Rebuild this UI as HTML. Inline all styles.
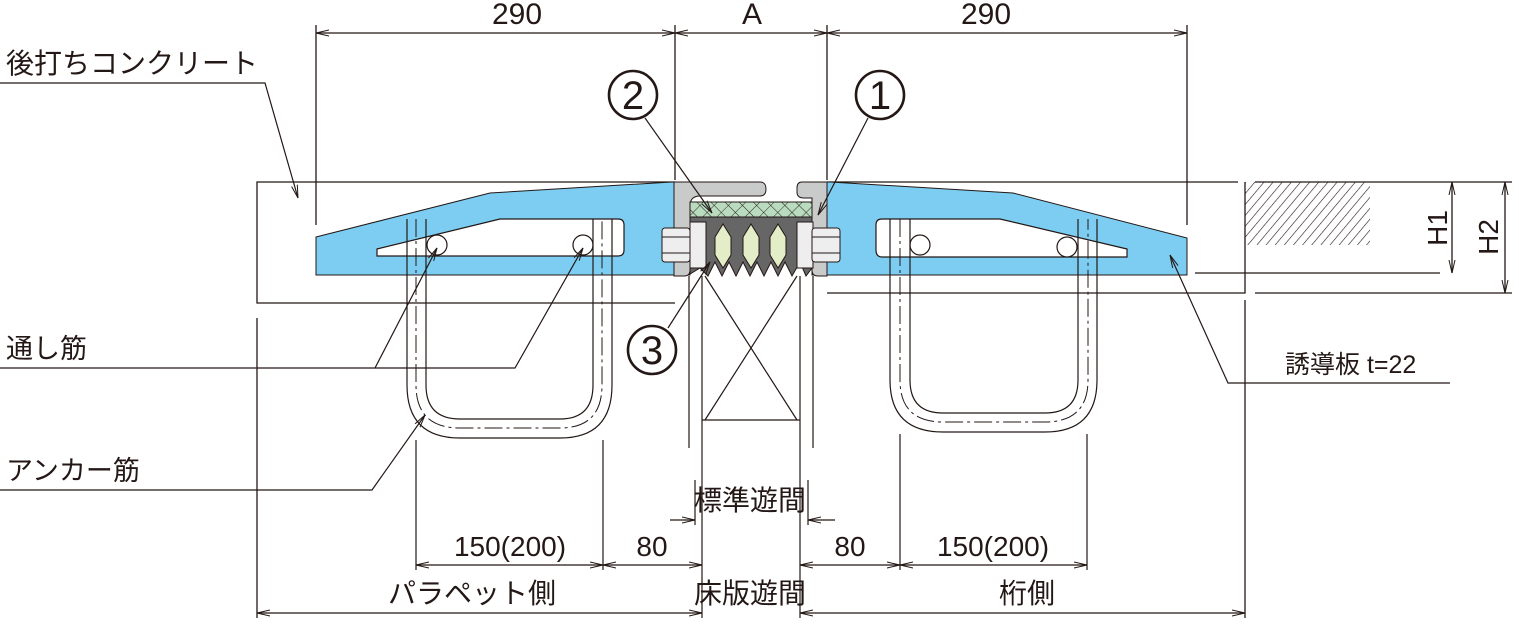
<!DOCTYPE html>
<html><head><meta charset="utf-8"><style>body{margin:0;background:#fff}svg{display:block}text{font-family:"Liberation Sans","Noto Sans CJK JP",sans-serif;fill:#231815}</style></head><body>
<svg width="1519" height="626" viewBox="0 0 1519 626" xmlns="http://www.w3.org/2000/svg">
<defs>
<marker id="a" markerWidth="14" markerHeight="8" refX="13" refY="4" orient="auto-start-reverse" markerUnits="userSpaceOnUse"><path d="M0,1 L13,4 L0,7" fill="none" stroke="#231815" stroke-width="1"/></marker>
<pattern id="h" width="7" height="7" patternUnits="userSpaceOnUse" patternTransform="rotate(40)"><line x1="0" y1="0" x2="0" y2="7" stroke="#231815" stroke-width="1.2"/></pattern>
<pattern id="x" width="10" height="10" patternUnits="userSpaceOnUse" patternTransform="rotate(45)"><rect width="10" height="10" fill="#b9dcbf"/><path d="M0,0V10M0,0H10" stroke="#231815" stroke-width="0.9"/></pattern>
</defs>
<g stroke="#231815" stroke-width="1.3" fill="none">
<line x1="316" y1="25" x2="316" y2="225"/><line x1="1187" y1="25" x2="1187" y2="225"/>
<line x1="675" y1="25" x2="675" y2="180"/><line x1="827" y1="25" x2="827" y2="180"/>
<line x1="316" y1="33" x2="675" y2="33" marker-start="url(#a)" marker-end="url(#a)"/>
<line x1="675" y1="33" x2="827" y2="33" marker-start="url(#a)" marker-end="url(#a)"/>
<line x1="827" y1="33" x2="1187" y2="33" marker-start="url(#a)" marker-end="url(#a)"/>
<path d="M675,182 H257 V303 H675"/>
<path d="M827,182 H1238 M827,293 H1245 V182 M1245,300 V618"/>
<line x1="257" y1="318" x2="257" y2="618"/>
<rect x="1245" y="182" width="125" height="63" fill="url(#h)" stroke="none"/>
<line x1="1255" y1="182" x2="1512" y2="182"/><line x1="1255" y1="293" x2="1512" y2="293"/>
<line x1="1195" y1="273" x2="1440" y2="273"/>
<line x1="1452" y1="182" x2="1452" y2="273" marker-start="url(#a)" marker-end="url(#a)"/>
<line x1="1505" y1="182" x2="1505" y2="293" marker-start="url(#a)" marker-end="url(#a)"/>
</g>
<path d="M316,237 L490,193 L672,182 L690,182 V275 H316 Z" fill="#7ccdf1" stroke="#231815" stroke-width="1"/>
<path d="M377,249 L500,219 H618 Q624,219 624,225 V250 Q624,256 618,256 H377 Z" fill="#fff" stroke="#231815" stroke-width="1.2"/>
<path d="M812,182 L830,182 L1013,193 L1187,238 V275 H812 Z" fill="#7ccdf1" stroke="#231815" stroke-width="1"/>
<path d="M1127,249 L1000,219 H882 Q876,219 876,225 V250 Q876,257 882,257 H1127 Z" fill="#fff" stroke="#231815" stroke-width="1.2"/>
<path d="M674,182 H760 Q766,182 766,189 Q766,196 760,196 H700 Q690,196 690,206 V270 Q690,276 684,276 H674 Z" fill="#c9caca" stroke="#231815" stroke-width="1"/>
<path d="M827,182 H802 Q797,182 797,188 V192 Q797,198 804,198 H812 V270 Q812,276 818,276 H827 Z" fill="#c9caca" stroke="#231815" stroke-width="1"/>
<rect x="690" y="202" width="122" height="15" fill="url(#x)" stroke="#231815"/>
<path d="M690,217 H812 V268 L806,276 L800,262 L792,276 L785,262 L778,276 L771,262 L764,276 L757,262 L750,276 L743,262 L736,276 L729,262 L722,276 L715,262 L708,276 L700,268 L690,274 Z" fill="#666" stroke="#231815"/>
<g fill="#e3eec8" stroke="#231815"><path d="M723,224 L731,237 V255 L723,268 L715,255 V237 Z"/><path d="M751,224 L759,237 V255 L751,268 L743,255 V237 Z"/><path d="M778,224 L786,237 V255 L778,268 L770,255 V237 Z"/></g>
<g fill="#eee" stroke="#231815"><rect x="690" y="222" width="16" height="46"/><rect x="797" y="222" width="16" height="46"/>
<rect x="662" y="228" width="28" height="34" rx="3"/><rect x="812" y="228" width="28" height="34" rx="3"/></g>
<g stroke="#231815" stroke-width="1" fill="none"><line x1="662" y1="237" x2="690" y2="237"/><line x1="662" y1="253" x2="690" y2="253"/><line x1="812" y1="237" x2="840" y2="237"/><line x1="812" y1="253" x2="840" y2="253"/></g>
<g stroke="#231815" stroke-width="1.2" fill="none">
<circle cx="437" cy="245" r="10" fill="#fff"/><circle cx="583" cy="245" r="10" fill="#fff"/>
<circle cx="920" cy="245" r="10" fill="#fff"/><circle cx="1067" cy="247" r="10" fill="#fff"/>
<path d="M407,219 V385 Q407,438 460,438 H560 Q612,438 612,385 V219"/>
<path d="M426,219 V385 Q426,419 460,419 H560 Q593,419 593,385 V219"/>
<path d="M416,219 V385 Q416,428 460,428 H560 Q602,428 602,385 V219" stroke-dasharray="18,4,3,4" stroke-width="1"/>
<path d="M890,219 V380 Q890,432 943,432 H1045 Q1097,432 1097,380 V219"/>
<path d="M910,219 V380 Q910,413 943,413 H1045 Q1078,413 1078,380 V219"/>
<path d="M900,219 V380 Q900,422 943,422 H1045 Q1088,422 1088,380 V219" stroke-dasharray="18,4,3,4" stroke-width="1"/>
<line x1="416" y1="440" x2="416" y2="570"/><line x1="603" y1="440" x2="603" y2="570"/>
<line x1="900" y1="434" x2="900" y2="570"/><line x1="1087" y1="434" x2="1087" y2="570"/>
<line x1="689" y1="276" x2="689" y2="448"/><line x1="702" y1="276" x2="702" y2="618"/>
<line x1="800" y1="276" x2="800" y2="618"/><line x1="813" y1="276" x2="813" y2="448"/>
<path d="M705,276 L797,420 M797,276 L705,420 M702,420 H800"/>
<line x1="695" y1="480" x2="695" y2="525"/><line x1="808" y1="480" x2="808" y2="525"/>
<line x1="670" y1="520" x2="695" y2="520" marker-end="url(#a)"/><line x1="835" y1="520" x2="808" y2="520" marker-end="url(#a)"/>
<line x1="416" y1="565" x2="603" y2="565" marker-start="url(#a)" marker-end="url(#a)"/>
<line x1="603" y1="565" x2="702" y2="565" marker-start="url(#a)" marker-end="url(#a)"/>
<line x1="800" y1="565" x2="900" y2="565" marker-start="url(#a)" marker-end="url(#a)"/>
<line x1="900" y1="565" x2="1087" y2="565" marker-start="url(#a)" marker-end="url(#a)"/>
<line x1="257" y1="613" x2="702" y2="613" marker-start="url(#a)" marker-end="url(#a)"/>
<line x1="800" y1="613" x2="1245" y2="613" marker-start="url(#a)" marker-end="url(#a)"/>
<polyline points="0,83 265,83 298,198" marker-end="url(#a)"/>
<polyline points="0,368 375,368 437,248" marker-end="url(#a)"/>
<polyline points="375,368 515,368 583,248" marker-end="url(#a)"/>
<polyline points="0,490 372,490 425,415" marker-end="url(#a)"/>
<polyline points="1450,383 1228,383 1170,255" marker-end="url(#a)"/>
<line x1="645" y1="118" x2="712" y2="213" marker-end="url(#a)"/>
<line x1="868" y1="118" x2="818" y2="215" marker-end="url(#a)"/>
<line x1="668" y1="328" x2="710" y2="262" marker-end="url(#a)"/>
<circle cx="633" cy="95" r="24" stroke-width="2.6"/><circle cx="880" cy="95" r="24" stroke-width="2.6"/><circle cx="652" cy="350" r="24" stroke-width="2.6"/>
</g>
<g font-size="28" text-anchor="middle">
<text x="633" y="109" font-size="40">2</text><text x="880" y="109" font-size="40">1</text><text x="652" y="364" font-size="40">3</text>
<text x="517" y="24" font-size="30">290</text><text x="752" y="24" font-size="30">A</text><text x="986" y="24" font-size="30">290</text>
<text x="510" y="556">150(200)</text><text x="652" y="556">80</text><text x="850" y="556">80</text><text x="993" y="556">150(200)</text>
<text x="750" y="510">標準遊間</text>
<text x="472" y="603">パラペット側</text><text x="750" y="603">床版遊間</text><text x="1027" y="603">桁側</text>
</g>
<g font-size="27"><text x="6" y="73" font-size="28">後打ちコンクリート</text><text x="6" y="358">通し筋</text><text x="6" y="480">アンカー筋</text>
<text x="1285" y="373" font-size="25">誘導板 t=22</text></g>
<text font-size="28" transform="translate(1447,228) rotate(-90)" text-anchor="middle">H1</text>
<text font-size="28" transform="translate(1498,237) rotate(-90)" text-anchor="middle">H2</text>
</svg>
</body></html>
